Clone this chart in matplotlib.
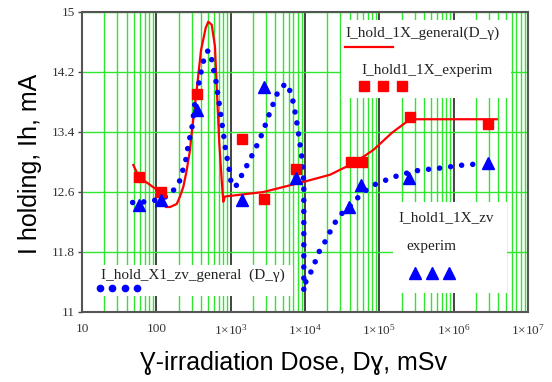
import numpy as np
import matplotlib
matplotlib.use("Agg")
import matplotlib.pyplot as plt
from matplotlib.patches import Rectangle
from matplotlib.ticker import FixedLocator, LogLocator, NullFormatter

plt.rcParams['mathtext.fontset'] = 'custom'
plt.rcParams['mathtext.rm'] = 'Liberation Serif'
plt.rcParams['mathtext.it'] = 'Liberation Serif'

# I_hold_1X_general(D_gamma) - red model curve
gen_dose = [49, 58.5, 112, 134, 153, 188, 208, 231, 256, 284, 295, 349, 399, 462,
            500, 556, 615, 661, 703, 757, 796, 839, 2760, 1.0e4, 2.17e4, 3.64e4,
            6.1e4, 8.3e4, 1.48e5, 2.59e5, 3.8e6]
gen_ih = [12.96, 12.80, 12.60, 12.40, 12.40, 12.44, 12.54, 12.67, 12.89, 13.16, 13.34,
          13.96, 14.49, 14.79, 14.87, 14.83, 14.54, 13.83, 13.25, 12.76, 12.47, 12.54,
          12.60, 12.74, 12.83, 12.94, 13.07, 13.16, 13.39, 13.57, 13.57]

# I_hold1_1X_experim - red squares
exp_dose = [58.5, 114, 349, 1435, 2840, 7640, 41600, 58500, 2.59e5, 2.9e6]
exp_ih = [12.80, 12.60, 13.90, 13.30, 12.50, 12.90, 13.00, 13.00, 13.60, 13.50]

# I_hold_X1_zv_general(D_gamma) - blue dotted curve
zv_dose = [48, 72, 110, 151, 200, 224, 249, 264, 284, 305, 334, 360, 387, 415, 456,
           503, 566, 602, 648, 676, 719, 749, 796, 831, 885, 951, 989, 1086, 1150,
           1435, 1750, 2105, 2483, 2870, 3280, 3750, 4300, 5500, 6430, 7050, 7500,
           7980, 8380, 8830, 9200, 9490, 9640, 9640, 10300, 12540, 15400, 17600,
           20200, 23100, 26700, 31800, 39500, 48100, 55000, 67600, 87500, 1.1e5,
           1.39e5, 1.9e5, 3.42e5, 6.76e5, 1.35e6, 1.9e6]
zv_ih = [12.46, 12.47, 12.50, 12.56, 12.71, 12.87, 13.03, 13.18, 13.34, 13.49, 13.83,
         13.97, 14.13, 14.28, 14.44, 14.49, 14.34, 14.18, 14.03, 13.87, 13.72, 13.56,
         13.40, 13.24, 13.08, 12.92, 12.77, 12.68, 12.66, 12.84, 13.00, 13.16, 13.31,
         13.47, 13.63, 13.78, 13.93, 14.05, 13.93, 13.77, 13.61, 13.46, 13.30, 13.15,
         13.00, 12.83, 12.68, 11.28, 11.41, 11.57, 11.80, 11.89, 12.01, 12.12, 12.23,
         12.32, 12.40, 12.49, 12.56, 12.63, 12.70, 12.74, 12.78, 12.83, 12.89, 12.92,
         12.96, 12.97]

# I_hold1_1X_zv experim - blue triangles
zvexp_dose = [58.5, 114.5, 349, 1406, 2840, 7580, 39500, 56700, 2.53e5, 2.9e6]
zvexp_ih = [12.42, 12.49, 13.69, 12.49, 14.00, 12.78, 12.40, 12.69, 12.78, 12.98]

y_ticks = [11, 11.8, 12.6, 13.4, 14.2, 15]
x_ticks = [10, 100, 1e3, 1e4, 1e5, 1e6, 1e7]
x_labels = ['10', '100', r'$1{\times}10^{3}$', r'$1{\times}10^{4}$', r'$1{\times}10^{5}$',
            r'$1{\times}10^{6}$', r'$1{\times}10^{7}$']

W, H = 552, 382
fig = plt.figure(figsize=(W / 100, H / 100), dpi=100)
L, R, T, B = 82, 528, 12, 312
ax = fig.add_axes([L / W, 1 - B / H, (R - L) / W, (B - T) / H])

green = '#2ee62e'
ax.set_xscale('log')
ax.set_xlim(10, 1e7)
ax.set_ylim(11, 15)
ax.set_axisbelow(True)
ax.xaxis.set_major_locator(FixedLocator(x_ticks))
ax.xaxis.set_minor_locator(LogLocator(base=10, subs=np.arange(2, 10)))
ax.xaxis.set_minor_formatter(NullFormatter())
ax.set_xticklabels(x_labels)
ax.set_yticks(y_ticks)
ax.set_yticklabels(['11', '11.8', '12.6', '13.4', '14.2', '15'])
ax.grid(True, which='major', axis='x', color='#222222', lw=1.2)
ax.grid(True, which='minor', axis='x', color=green, lw=1.0)
ax.grid(True, which='major', axis='y', color=green, lw=1.0)
ax.tick_params(axis='x', which='both', length=0, pad=8)
ax.tick_params(axis='y', length=3, width=1, color='#444444', pad=2)
for lab in ax.get_xticklabels() + ax.get_yticklabels():
    lab.set_family('Liberation Serif')
    lab.set_fontsize(9.5)
    lab.set_color('#333333')
for sp in ax.spines.values():
    sp.set_color('#555555')
    sp.set_linewidth(1.5)
    sp.set_zorder(6)


def frac(px, py):
    return (px - L) / (R - L), (B - py) / (B - T)


# white boxes behind the legend texts
for x0, y0, x1, y1 in [(341, 20, 511, 98), (393, 202, 507, 293), (85, 265, 293, 296)]:
    fx0, fy1 = frac(x0, y1)
    fx1, fy0 = frac(x1, y0)
    ax.add_patch(Rectangle((fx0, fy1), fx1 - fx0, fy0 - fy1, transform=ax.transAxes,
                           facecolor='white', edgecolor='none', zorder=1))

ax.plot(gen_dose, gen_ih, color='red', lw=1.6, zorder=3)
ax.plot(zv_dose, zv_ih, color='blue', lw=4.0, ls=(0, (0.001, 2.0)),
        dash_capstyle='round', zorder=3)
ax.plot(exp_dose, exp_ih, ls='none', marker='s', ms=7, color='red', zorder=4)
ax.plot(zvexp_dose, zvexp_ih, ls='none', marker='^', ms=8.5, color='blue', zorder=5)

tkw = dict(transform=ax.transAxes, family='Liberation Serif', fontsize=11,
           color='#222222', va='center', zorder=7)
ax.text(*frac(345, 33), 'I_hold_1X_general(D_γ)', **tkw)
ax.plot([frac(345, 47)[0], frac(393, 47)[0]], [frac(345, 47)[1]] * 2,
        transform=ax.transAxes, color='red', lw=1.6, zorder=7, clip_on=False)
ax.text(*frac(361, 71), 'I_hold1_1X_experim', **tkw)
for px in [364, 383, 402]:
    ax.plot(*frac(px, 86), transform=ax.transAxes, marker='s', ms=7,
            color='red', zorder=7)
ax.text(*frac(101, 275), 'I_hold_X1_zv_general  (D_γ)', **tkw)
for px in [100, 112, 125, 137]:
    ax.plot(*frac(px, 288), transform=ax.transAxes, marker='o', ms=4.5,
            color='blue', zorder=7)
ax.text(*frac(398, 218), 'I_hold1_1X_zv', **tkw)
ax.text(*frac(406, 247), 'experim', **tkw)
for px in [415, 432, 449]:
    ax.plot(*frac(px, 273), transform=ax.transAxes, marker='^', ms=8.5,
            color='blue', zorder=7)

fam = ['Liberation Sans', 'DejaVu Sans']
fig.text(293 / W, 1 - 363 / H, 'Ɣ-irradiation Dose, Dɣ, mSv', family=fam,
         fontsize=18, ha='center', va='center')
fig.text(30 / W, 1 - 164 / H, 'I holding, Ih, mA', family=fam, fontsize=18,
         rotation=90, ha='center', va='center')

fig.savefig('out.png', dpi=100)
